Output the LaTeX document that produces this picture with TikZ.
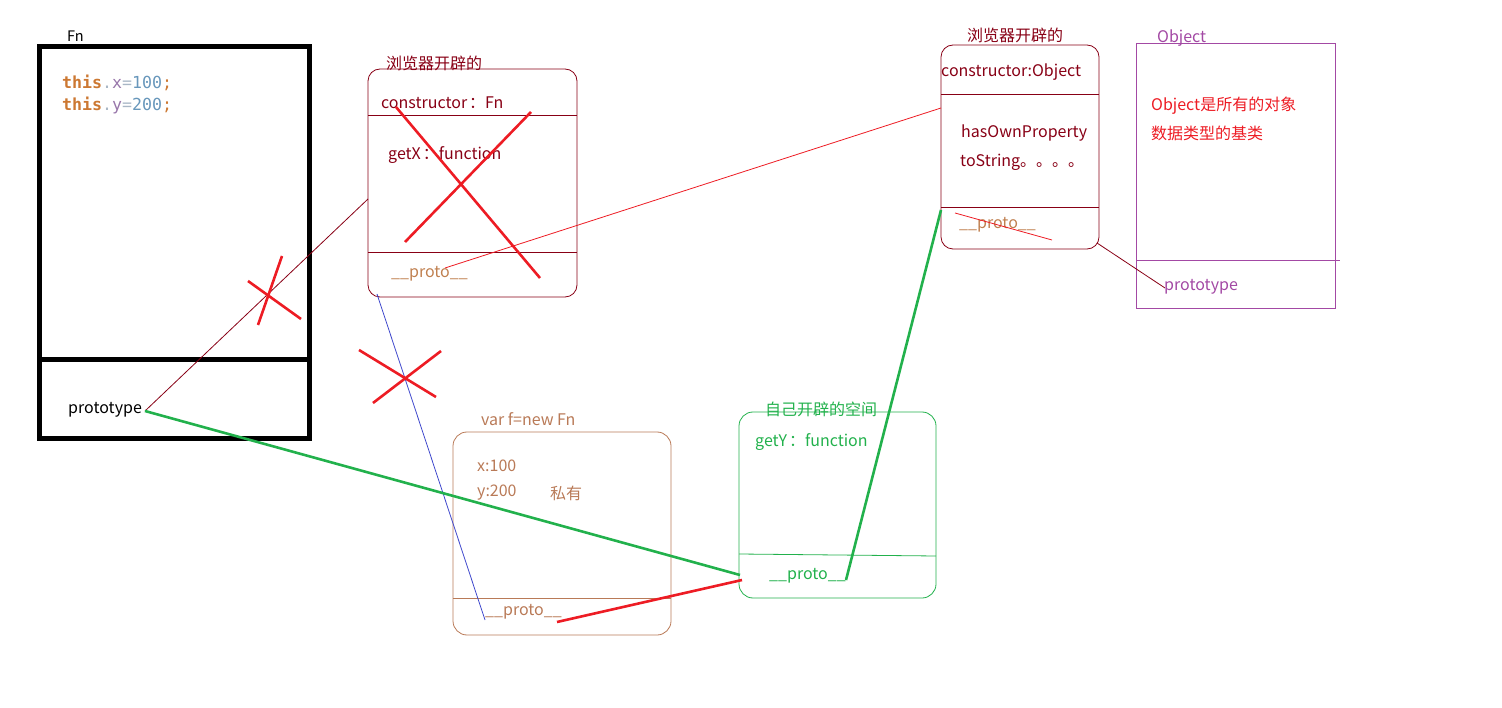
\documentclass[tikz,border=0pt]{standalone}
\usepackage{fontspec}
\setmainfont{Noto Sans CJK SC}
\newfontfamily\codefont{DejaVu Sans Mono}
\definecolor{boxred}{HTML}{880015}
\definecolor{protoc}{HTML}{C08050}
\definecolor{fcol}{HTML}{B97A57}
\definecolor{gcol}{HTML}{22B14C}
\definecolor{pcol}{HTML}{A349A4}
\definecolor{xred}{HTML}{ED1C24}
\definecolor{kwc}{HTML}{CC7832}
\definecolor{numc}{HTML}{6897BB}
\definecolor{varc}{HTML}{9876AA}
\definecolor{punc}{HTML}{A9B7C6}
\definecolor{bluel}{HTML}{3F48CC}
\begin{document}
\begin{tikzpicture}[x=1pt,y=-1pt,
  txt/.style={anchor=west,inner sep=0pt,font=\fontsize{16}{19}\selectfont},
  code/.style={anchor=west,inner sep=0pt,font=\codefont\fontsize{16.6}{19}\selectfont},
  thin/.style={line width=0.8pt},
  cross/.style={xred,line width=2.6pt},
  thick/.style={line width=2.6pt}]
\useasboundingbox (0,0) rectangle (1502,708);
% Fn box
\draw[line width=5pt] (39.5,46.5) rectangle (309.5,438);
\draw[line width=5pt] (39.5,359.5) -- (309.5,359.5);
\node[txt,font=\fontsize{14.5}{16}\selectfont] (fnlabel) at (67,36) {Fn};
\node[code] (codex) at (62,83) {\textbf{\color{kwc}this}\color{punc}.\color{varc}x\color{punc}=\color{numc}100\color{kwc};};
\node[code] (codey) at (62,105) {\textbf{\color{kwc}this}\color{punc}.\color{varc}y\color{punc}=\color{numc}200\color{kwc};};
\node[txt] (fnproto) at (68,410) {prototype};
\coordinate (fnp) at (145,411);
% Browser box 1
\draw[boxred,thin,rounded corners=12pt] (368,69) rectangle (577,297);
\draw[boxred,thin] (368,115) -- (577,115) (368,252) -- (577,252);
\node[txt,boxred] (b1title) at (386,63) {浏览器开辟的};
\node[txt,boxred] (b1c) at (381,103) {constructor\hspace{2pt}：Fn};
\node[txt,boxred] (b1g) at (388,155) {getX\hspace{2pt}：function};
\node[txt,protoc] (b1p) at (391,274) {\_\_proto\_\_};
\coordinate (b1left) at (368,199);
\coordinate (b1pr) at (445,268);
\coordinate (b1bl) at (377,294);
% Browser box 2
\draw[boxred,thin,rounded corners=12pt] (941,45) rectangle (1099,249);
\draw[boxred,thin] (941,94) -- (1099,94) (941,207) -- (1099,207);
\node[txt,boxred] (b2title) at (967,35) {浏览器开辟的};
\node[txt,boxred] (b2c) at (941,72) {constructor:Object};
\node[txt,boxred] (b2h) at (961,133) {hasOwnProperty};
\node[txt,boxred] (b2t) at (960,162) {toString。。。。};
\node[txt,protoc] (b2p) at (959,225) {\_\_proto\_\_};
\coordinate (b2left) at (941,108);
\coordinate (b2div) at (941,210);
\coordinate (b2br) at (1097,243);
\coordinate (s1) at (955,213);
\coordinate (s2) at (1052,240);
% Object box
\draw[pcol,thin] (1136,43) rectangle (1335,308);
\draw[pcol,thin] (1136,260) -- (1340,260);
\node[txt,pcol] (objtitle) at (1157,38) {Object};
\node[txt,xred] (objt1) at (1151,106) {Object是所有的对象};
\node[txt,xred] (objt2) at (1151,133) {数据类型的基类};
\node[txt,pcol] (objp) at (1164,287) {prototype};
\coordinate (objpl) at (1165,288);
% f box
\draw[fcol,thin,rounded corners=14pt] (453,432) rectangle (671,635);
\draw[fcol,thin] (453,598) -- (671,598);
\node[txt,fcol] (ftitle) at (481,419) {var f=new Fn};
\node[txt,fcol] (fx) at (477,466) {x:100};
\node[txt,fcol] (fy) at (477,493) {y:200};
\node[txt,fcol] (fpriv) at (550,493) {私有};
\node[txt,fcol] (fp) at (485,612) {\_\_proto\_\_};
\coordinate (fpl) at (485,620);
\coordinate (fpr) at (557,622);
% green box
\draw[gcol,thin,rounded corners=14pt] (739,412) rectangle (936,598);
\draw[gcol,thin] (739,554) -- (936,556);
\node[txt,gcol] (gtitle) at (765,409) {自己开辟的空间};
\node[txt,gcol] (gget) at (755,442) {getY\hspace{2pt}：function};
\node[txt,gcol] (gp) at (769,576) {\_\_proto\_\_};
\coordinate (gl) at (740,575);
\coordinate (gl2) at (742,580);
\coordinate (gpr) at (846,580);
% connectors
\draw[boxred,thin] (fnp) -- (b1left);
\draw[xred,thin] (b1pr) -- (b2left);
\draw[bluel,thin] (b1bl) -- (fpl);
\draw[gcol,thick] (fnp) -- (gl);
\draw[xred,thick] (fpr) -- (gl2);
\draw[gcol,thick] (gpr) -- (b2div);
\draw[boxred,thin] (b2br) -- (objpl);
\draw[xred,thin] (s1) -- (s2);
% crosses
\draw[cross] (396,107) -- (540,278);
\draw[cross] (405,242) -- (531,112);
\draw[cross] (248,281) -- (301,319);
\draw[cross] (282,256) -- (258,325);
\draw[cross] (359,350) -- (436,397);
\draw[cross] (441,351) -- (373,403);
\end{tikzpicture}
\end{document}
